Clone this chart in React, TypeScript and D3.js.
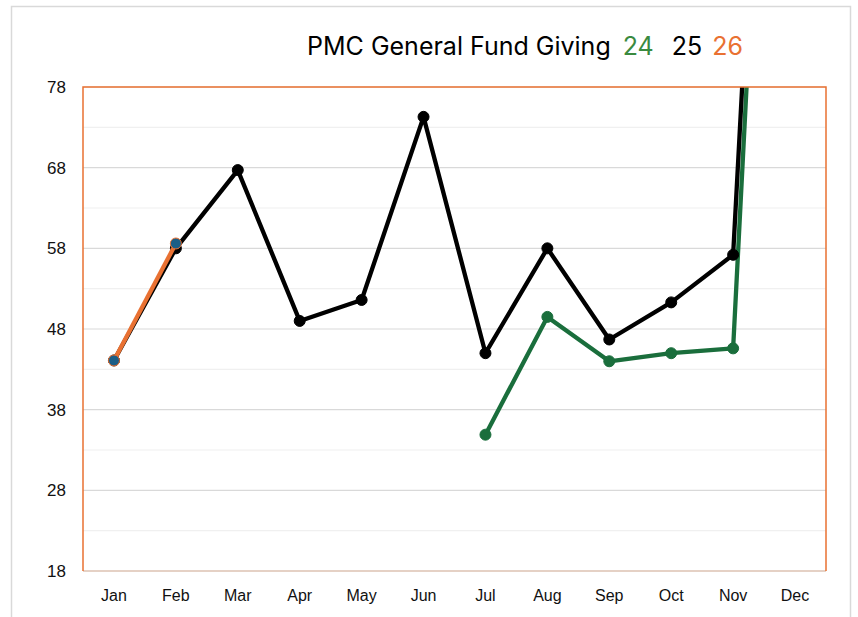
import React, { useEffect, useRef } from 'react';
import * as d3 from 'd3';

// months along the bottom
const months = ['Jan', 'Feb', 'Mar', 'Apr', 'May', 'Jun', 'Jul', 'Aug', 'Sep', 'Oct', 'Nov', 'Dec'];

// giving per fiscal year, null = no data yet
const fy24: (number | null)[] = [null, null, null, null, null, null, 34.9, 49.5, 44.0, 45.0, 45.6, 195];
const fy25: (number | null)[] = [44.1, 58.0, 67.7, 49.0, 51.6, 74.3, 45.0, 58.0, 46.7, 51.3, 57.2, 200];
const fy26: (number | null)[] = [44.1, 58.6, null, null, null, null, null, null, null, null, null, null];

const yTicks = [18, 28, 38, 48, 58, 68, 78];
const yMinor = [23, 33, 43, 53, 63, 73];

const App = () => {
  const svgRef = useRef<SVGSVGElement>(null);

  const W = 858;
  const H = 617;
  const margin = { top: 87, right: 32, bottom: 46, left: 83 };
  const width = W - margin.left - margin.right;
  const height = H - margin.top - margin.bottom;

  useEffect(() => {
    const root = d3.select(svgRef.current);
    root.selectAll('*').remove();

    // outer chart frame
    root.append('rect')
      .attr('x', 11.5).attr('y', 6.5)
      .attr('width', 839).attr('height', 640)
      .attr('fill', 'white')
      .attr('stroke', '#d9d9d9')
      .attr('stroke-width', 1.5);

    // title
    const title = root.append('text')
      .attr('x', 525).attr('y', 55)
      .attr('text-anchor', 'middle')
      .style('font-family', 'Inter, "Open Sans", sans-serif')
      .style('font-size', '25px');
    title.append('tspan').attr('fill', '#000').text('PMC General Fund Giving');
    title.append('tspan').attr('fill', '#3a8a3f').attr('dx', 12).text('24');
    title.append('tspan').attr('fill', '#000').attr('dx', 18).text('25');
    title.append('tspan').attr('fill', '#e97132').attr('dx', 10).text('26');

    const svg = root.append('g').attr('transform', `translate(${margin.left},${margin.top})`);

    const x = d3.scalePoint<string>().domain(months).range([0, width]).padding(0.5);
    const y = d3.scaleLinear().domain([18, 78]).range([height, 0]);

    // gridlines
    svg.selectAll('.minor').data(yMinor).enter().append('line')
      .attr('x1', 0).attr('x2', width)
      .attr('y1', d => y(d)).attr('y2', d => y(d))
      .attr('stroke', '#f0f0f0').attr('stroke-width', 1.2);
    svg.selectAll('.major').data(yTicks).enter().append('line')
      .attr('x1', 0).attr('x2', width)
      .attr('y1', d => y(d)).attr('y2', d => y(d))
      .attr('stroke', '#d9d9d9').attr('stroke-width', 1.2);

    // y labels
    svg.selectAll('.ylab').data(yTicks).enter().append('text')
      .attr('x', -17).attr('y', d => y(d))
      .attr('dy', '0.35em')
      .attr('text-anchor', 'end')
      .style('font-family', '"Liberation Sans", Arial, sans-serif')
      .style('font-size', '17px')
      .attr('fill', '#111')
      .text(d => d);

    // x labels
    svg.selectAll('.xlab').data(months).enter().append('text')
      .attr('x', d => x(d)!).attr('y', height + 30)
      .attr('text-anchor', 'middle')
      .style('font-family', '"Liberation Sans Narrow", "Liberation Sans", sans-serif')
      .style('font-size', '16px')
      .attr('fill', '#111')
      .text(d => d);

    svg.append('clipPath').attr('id', 'plot-clip')
      .append('rect').attr('x', -10).attr('y', 0).attr('width', width + 10).attr('height', height);

    const plot = svg.append('g').attr('clip-path', 'url(#plot-clip)');

    const line = d3.line<number | null>()
      .defined(d => d !== null)
      .x((d, i) => x(months[i])!)
      .y(d => y(d as number));

    const series = [
      { data: fy24, color: '#1a6e3c', marker: '#1a6e3c', markerStroke: '#1a6e3c' },
      { data: fy25, color: '#000000', marker: '#000000', markerStroke: '#000000' },
      { data: fy26, color: '#e97132', marker: '#1b5e86', markerStroke: '#e97132' },
    ];

    series.forEach(s => {
      plot.append('path')
        .datum(s.data)
        .attr('fill', 'none')
        .attr('stroke', s.color)
        .attr('stroke-width', 4.3)
        .attr('stroke-linejoin', 'round')
        .attr('d', line);
      const pts = s.data.map((v, i) => ({ v, m: months[i] })).filter(p => p.v !== null && (p.v as number) <= 78);
      plot.selectAll(null).data(pts).enter().append('circle')
        .attr('cx', p => x(p.m)!)
        .attr('cy', p => y(p.v as number))
        .attr('r', 5.5)
        .attr('fill', s.marker)
        .attr('stroke', s.markerStroke)
        .attr('stroke-width', 1);
    });

    // plot frame
    svg.append('line').attr('x1', 0).attr('x2', width).attr('y1', height).attr('y2', height)
      .attr('stroke', '#e3c9b8').attr('stroke-width', 1.5);
    svg.append('path')
      .attr('d', `M0,${height}V0H${width}V${height}`)
      .attr('fill', 'none')
      .attr('stroke', '#e97132')
      .attr('stroke-width', 1.5);
  }, []);

  return (
    <svg ref={svgRef} width={W} height={H} style={{ position: 'absolute', left: 0, top: 0 }} />
  );
};

export default App;
